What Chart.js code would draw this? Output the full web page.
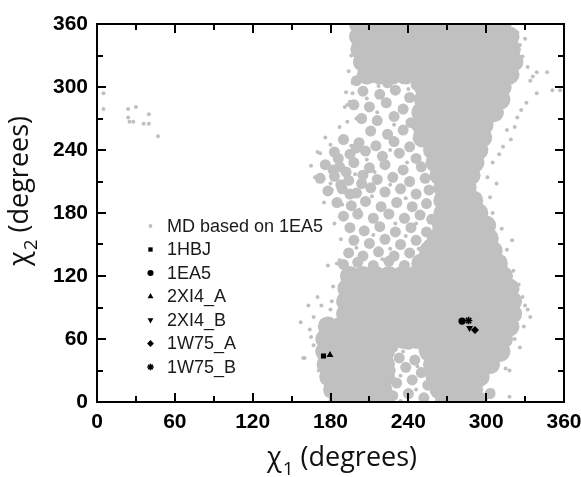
<!DOCTYPE html>
<html lang="en">
<head>
  <meta charset="UTF-8">
  <title>Chi1 / Chi2 distribution</title>
  <script src="https://cdn.jsdelivr.net/npm/chart.js"></script>
  <style>
    html, body {
      margin: 0;
      padding: 0;
      background: #fff;
    }
    .wrap {
      width: 581px;
      height: 477px;
    }
  </style>
</head>
<body>
<div class="wrap"><canvas id="chiChart" width="581" height="477"></canvas></div>

<script>
  // crystal structures (black markers), chi1 / chi2 in degrees
  var structures = ['1HBJ', '1EA5', '2XI4_A', '2XI4_B', '1W75_A', '1W75_B'];
  var structChi1 = [174.6, 281.4, 179.6, 287.2, 291.4, 286.4];
  var structChi2 = [43.8, 77.1, 44.8, 70.5, 68.6, 77.6];

  // MD cloud, dense part: [chi2, [chi1 values]]
  var mdDenseRows = [
    [360, [202, 212, 222, 232, 242, 252, 262, 272, 282, 292, 302, 312]],
    [348, [202, 212, 222, 232, 242, 252, 262, 272, 282, 292, 302, 312, 318]],
    [336, [203, 213, 223, 233, 243, 253, 263, 273, 283, 293, 303, 313, 319]],
    [324, [205, 215, 225, 235, 245, 255, 265, 275, 285, 295, 305, 315, 321]],
    [312, [208, 218, 228, 238, 248, 258, 268, 278, 288, 298, 308, 318]],
    [300, [252, 262, 272, 282, 292, 302, 312]],
    [288, [252, 262, 272, 282, 292, 302, 311]],
    [276, [250, 260, 270, 280, 290, 300, 306]],
    [264, [250, 260, 270, 280, 290, 298]],
    [252, [251, 261, 271, 281, 291, 297]],
    [240, [259, 269, 279, 289, 294]],
    [228, [261, 271, 281, 291]],
    [216, [264, 274, 284, 288]],
    [204, [267, 277, 285]],
    [192, [267, 277, 287, 290]],
    [180, [267, 277, 287, 294]],
    [168, [266, 276, 286, 296, 300]],
    [156, [262, 272, 282, 292, 302]],
    [144, [256, 266, 276, 286, 296, 305]],
    [132, [250, 260, 270, 280, 290, 300, 309]],
    [120, [195, 205, 215, 225, 235, 245, 255, 265, 275, 285, 295, 305, 313]],
    [108, [193, 203, 213, 223, 233, 243, 253, 263, 273, 283, 293, 303, 313, 318]],
    [96, [192, 202, 212, 222, 232, 242, 252, 262, 272, 282, 292, 302, 312, 320]],
    [84, [192, 202, 212, 222, 232, 242, 252, 262, 272, 282, 292, 302, 312, 320]],
    [72, [178, 188, 198, 208, 218, 228, 238, 248, 258, 268, 278, 288, 298, 308, 318]],
    [60, [176, 186, 196, 206, 216, 226, 236, 246, 256, 266, 276, 286, 296, 306, 313]],
    [48, [176, 186, 196, 206, 216, 222, 256, 266, 276, 286, 296, 306, 311]],
    [36, [177, 187, 197, 207, 217, 222, 259, 269, 279, 289, 299, 303]],
    [24, [179, 189, 199, 209, 218, 222, 261, 271, 281, 291, 295]],
    [12, [182, 192, 202, 212, 220, 264, 274, 284, 290]],
    [0, [186, 196, 206, 216, 221, 268, 278, 286]]
  ];

  // MD cloud, speckled (medium density) part: [chi1, chi2]
  var mdMedium = [
    [200, 306], [212, 309], [224, 304], [236, 308], [246, 302],
    [205, 296], [218, 293], [230, 297], [241, 290],
    [198, 283], [210, 281], [223, 285], [236, 279],
    [204, 270], [216, 268], [229, 272], [242, 266],
    [211, 258], [224, 255], [236, 259],
    [190, 250], [202, 247], [215, 244], [229, 248], [241, 243],
    [183, 238], [195, 236], [207, 239], [220, 234], [233, 237], [246, 232],
    [176, 226], [187, 224], [198, 228], [210, 223], [222, 226], [236, 221], [250, 224],
    [172, 213], [183, 215], [194, 211], [205, 216], [216, 212], [228, 214], [241, 210], [253, 213],
    [178, 201], [189, 203], [200, 199], [211, 204], [222, 200], [234, 203], [246, 198], [256, 202],
    [185, 190], [196, 187], [207, 191], [219, 186], [231, 190], [243, 186], [254, 189],
    [190, 177], [201, 179], [213, 175], [225, 179], [237, 175], [249, 178], [258, 174],
    [195, 166], [206, 163], [218, 167], [230, 162], [242, 166], [254, 162],
    [198, 154], [210, 151], [222, 155], [234, 150], [246, 154], [256, 150],
    [194, 142], [205, 139], [217, 143], [229, 139], [241, 142], [252, 138],
    [190, 131], [201, 133], [213, 130], [225, 134], [237, 130],
    [186, 232], [192, 219], [200, 242], [204, 208], [195, 198], [188, 207], [182, 221],
    [228, 52], [240, 55], [252, 50], [233, 42], [245, 40], [256, 44],
    [226, 30], [238, 33], [250, 28], [231, 18], [243, 21], [255, 16],
    [228, 6], [240, 8], [252, 4], [296, 4], [303, 8]
  ];

  // MD cloud, isolated points and fringe: [chi1, chi2]
  var mdSparse = [
    [5, 294], [5, 279], [24, 279], [30, 281], [24, 271], [25, 267], [28, 267],
    [36, 265], [40, 274], [40, 265], [47, 253],
    [339, 314], [347, 314], [351, 297], [339, 294], [334, 306], [328, 329], [332, 319],
    [336, 310], [326, 340], [330, 346], [324, 352], [357, 297], [331, 285], [327, 278],
    [324, 271], [316, 259], [313, 243], [305, 228], [301, 214], [303, 195], [305, 180],
    [320, 154], [316, 145], [312, 165], [308, 208], [310, 236], [319, 250], [322, 262],
    [328, 100], [332, 88], [334, 81], [330, 92], [326, 52], [315, 32], [311, 40],
    [318, 30], [305, 11], [318, 5], [322, 60], [329, 72], [325, 112], [321, 125], [300, 3],
    [157, 76], [159, 42], [163, 92], [178, 130], [187, 135], [173, 92], [167, 54],
    [176, 19], [177, 7], [160, 42], [164, 69], [167, 81], [180, 88], [170, 100],
    [182, 110], [181, 96], [171, 30], [165, 62],
    [168, 214], [172, 237], [176, 252], [181, 202], [189, 188], [191, 281], [193, 267],
    [185, 132], [195, 286], [200, 270], [170, 238], [193, 283], [197, 304],
    [197, 294], [165, 225], [175, 190], [183, 170], [188, 155], [180, 245], [187, 262],
    [192, 295], [194, 315], [196, 330], [198, 345], [199, 355],
    [196, 244], [208, 231], [226, 240], [214, 219], [239, 228], [180, 208], [199, 217],
    [226, 207], [238, 194], [212, 196], [202, 183], [230, 170], [246, 170], [213, 159],
    [238, 158], [226, 146], [200, 147], [248, 146], [220, 136], [207, 124], [244, 126],
    [216, 276], [229, 264], [208, 289], [240, 298], [217, 301], [230, 310], [246, 279],
    [236, 48], [247, 34], [234, 25], [246, 12], [234, 1], [258, 30], [224, 62]
  ];

  var xTitle = ['\u03c7', '1', ' (degrees)'];
  var yTitle = ['\u03c7', '2', ' (degrees)'];

  var gray = '#c0c0c0';
  var markerStyle = {
    '1HBJ': { pointStyle: 'rect', radius: 3.6, rotation: 0 },
    '1EA5': { pointStyle: 'circle', radius: 3.6, rotation: 0 },
    '2XI4_A': { pointStyle: 'triangle', radius: 4, rotation: 0 },
    '2XI4_B': { pointStyle: 'triangle', radius: 4, rotation: 180 },
    '1W75_A': { pointStyle: 'rectRot', radius: 4, rotation: 0 },
    '1W75_B': { pointStyle: 'star', radius: 3.8, rotation: 0 }
  };

  function toPoints(arr) {
    return arr.map(function (p) { return { x: p[0], y: p[1] }; });
  }

  var densePoints = [];
  mdDenseRows.forEach(function (row) {
    row[1].forEach(function (x) { densePoints.push({ x: x, y: row[0] }); });
  });

  var datasets = structures.map(function (name, i) {
    var st = markerStyle[name];
    return {
      label: name,
      data: [{ x: structChi1[i], y: structChi2[i] }],
      pointStyle: st.pointStyle,
      pointRadius: st.radius,
      pointHoverRadius: st.radius,
      rotation: st.rotation,
      backgroundColor: '#000',
      borderColor: '#000',
      pointBorderWidth: st.pointStyle === 'star' ? 1.6 : 0
    };
  });

  function grayDataset(label, points, radius) {
    return {
      label: label,
      data: points,
      pointRadius: radius,
      pointHoverRadius: radius,
      pointBorderWidth: 0,
      backgroundColor: gray,
      borderColor: gray,
      clip: 0
    };
  }

  datasets.push(grayDataset('MD based on 1EA5', toPoints(mdSparse), 2));
  datasets.push(grayDataset('', toPoints(mdMedium), 5.5));
  datasets.push(grayDataset('', densePoints, 10));

  // frame with inward major/minor ticks, legend box and axis titles
  var decorations = {
    id: 'decorations',
    afterDraw: function (chart) {
      var ctx = chart.ctx;
      var a = chart.chartArea;
      var xs = chart.scales.x;
      var ys = chart.scales.y;
      ctx.save();
      ctx.strokeStyle = '#000';
      ctx.lineWidth = 2;
      ctx.strokeRect(a.left, a.top, a.right - a.left, a.bottom - a.top);
      for (var v = 0; v <= 360; v += 30) {
        var len = v % 60 === 0 ? 9 : 6;
        var px = Math.round(xs.getPixelForValue(v));
        var py = Math.round(ys.getPixelForValue(v));
        ctx.beginPath();
        ctx.moveTo(px, a.bottom); ctx.lineTo(px, a.bottom - len);
        ctx.moveTo(px, a.top); ctx.lineTo(px, a.top + len);
        ctx.moveTo(a.left, py); ctx.lineTo(a.left + len, py);
        ctx.moveTo(a.right, py); ctx.lineTo(a.right - len, py);
        ctx.stroke();
      }

      // legend
      var order = [6, 0, 1, 2, 3, 4, 5];
      ctx.font = '18px "Liberation Sans", Arial, sans-serif';
      ctx.textBaseline = 'middle';
      ctx.textAlign = 'left';
      order.forEach(function (di, k) {
        var ds = chart.data.datasets[di];
        var y = 226 + k * 23.5;
        ctx.fillStyle = ds.backgroundColor;
        ctx.strokeStyle = ds.borderColor;
        ctx.lineWidth = ds.pointBorderWidth || 0;
        Chart.helpers.drawPoint(ctx, {
          pointStyle: ds.pointStyle || 'circle',
          radius: di === 6 ? 1.9 : ds.pointRadius * 0.85,
          rotation: ds.rotation || 0,
          borderWidth: ds.pointBorderWidth || 0
        }, 150.5, y);
        ctx.fillStyle = '#1a1a1a';
        ctx.fillText(ds.label, 167, y + 1);
      });

      // axis titles with subscripts
      drawTitle(ctx, xTitle, 342, 466, 0);
      drawTitle(ctx, yTitle, 191, 28, -Math.PI / 2);
      ctx.restore();
    }
  };

  function drawTitle(ctx, parts, center, base, angle) {
    var big = '27px "Open Sans", sans-serif';
    var small = '19px "Open Sans", sans-serif';
    ctx.save();
    ctx.fillStyle = '#111';
    ctx.textBaseline = 'alphabetic';
    ctx.textAlign = 'left';
    ctx.font = big;
    var w0 = ctx.measureText(parts[0]).width;
    var w2 = ctx.measureText(parts[2]).width;
    ctx.font = small;
    var w1 = ctx.measureText(parts[1]).width;
    var total = w0 + 1 + w1 + w2;
    if (angle === 0) {
      ctx.translate(center - total / 2, base);
    } else {
      ctx.translate(base, center + total / 2);
      ctx.rotate(angle);
    }
    ctx.font = big;
    ctx.fillText(parts[0], 0, 0);
    ctx.font = small;
    ctx.fillText(parts[1], w0 + 1, 9);
    ctx.font = big;
    ctx.fillText(parts[2], w0 + 1 + w1, 0);
    ctx.restore();
  }

  var tickFont = { family: '"Liberation Sans", Arial, sans-serif', size: 21, weight: 'bold' };

  var chiCtx = document.getElementById('chiChart').getContext('2d');
  var chiChart = new Chart(chiCtx, {
    type: 'scatter',
    data: { datasets: datasets },
    options: {
      responsive: false,
      animation: false,
      devicePixelRatio: 1,
      layout: { padding: { top: 24, right: 17, left: 0, bottom: 0 } },
      plugins: {
        legend: { display: false },
        tooltip: { enabled: false }
      },
      scales: {
        x: {
          type: 'linear',
          min: 0,
          max: 360,
          ticks: { stepSize: 60, font: tickFont, color: '#000', padding: 8 },
          grid: { display: false, drawTicks: false },
          border: { display: false },
          afterFit: function (s) { s.height = 75; s.paddingLeft = 0; s.paddingRight = 0; }
        },
        y: {
          type: 'linear',
          min: 0,
          max: 360,
          ticks: { stepSize: 60, font: tickFont, color: '#000', padding: 9 },
          grid: { display: false, drawTicks: false },
          border: { display: false },
          afterFit: function (s) { s.width = 97; s.paddingTop = 0; s.paddingBottom = 0; }
        }
      }
    },
    plugins: [decorations]
  });
</script>
</body>
</html>
